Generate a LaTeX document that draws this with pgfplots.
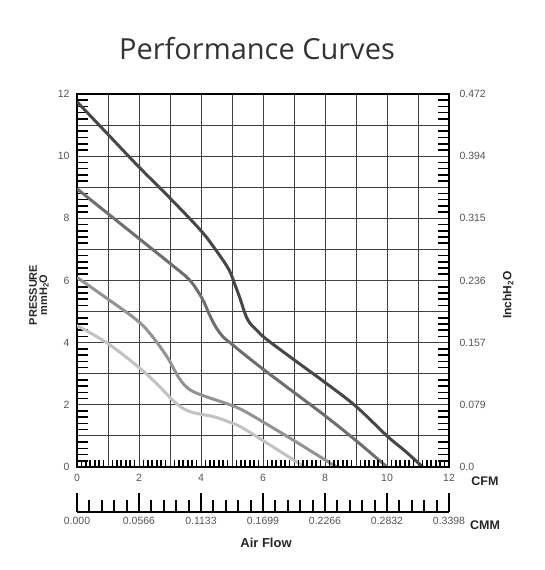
\documentclass[border=0pt]{standalone}
\usepackage{pgfplots}
\pgfplotsset{compat=1.18}
\usepackage{fontspec}
\setmainfont{Liberation Sans}
\newfontfamily\titlefont{Open Sans}
\definecolor{tickgray}{HTML}{555555}
\definecolor{cA}{HTML}{474747}
\definecolor{cB}{HTML}{6E6E6E}
\definecolor{cC}{HTML}{939393}
\definecolor{cD}{HTML}{C2C2C2}
\begin{document}
\begin{tikzpicture}
\useasboundingbox (0,0) rectangle (545pt,570pt);
\pgfplotsset{
  base/.style={scale only axis, width=372pt, height=373pt, at={(77pt,103pt)}, anchor=south west,
    xmin=0, xmax=12, ymin=0, ymax=12,
    /pgf/number format/assume math mode=true,
    tick label style={font=\fontsize{10.5}{12}\selectfont, text=tickgray},
    axis line style={line width=2.4pt}},
}
\begin{axis}[base,
  xtick={0,...,12}, ytick={0,...,12},
  xticklabels={0,,2,,4,,6,,8,,10,,12},
  yticklabels={0,,2,,4,,6,,8,,10,,12},
  grid=major, major grid style={black!75, line width=0.9pt},
  major tick length=0pt,
  minor y tick num=4, minor x tick num=0,
  minor tick length=11pt, minor tick style={black, line width=1.6pt},
  xtick pos=left, ytick pos=both, yticklabel pos=left,
  xticklabel style={yshift=-4pt}, yticklabel style={xshift=-4pt},
  every axis plot/.append style={line width=3pt, smooth, tension=0.6}]
\addplot[cD] coordinates {(0,4.55)(1,3.97)(2,3.2)(2.55,2.7)(3.2,2.05)(3.65,1.78)(4.4,1.62)(4.9,1.45)(5.3,1.28)(6,0.85)(7,0.22)(7.35,0)};
\addplot[cC] coordinates {(0,6.1)(1,5.4)(1.9,4.75)(2.35,4.3)(2.9,3.55)(3.3,2.85)(3.65,2.48)(4.2,2.25)(4.8,2.05)(5.3,1.85)(6,1.45)(7,0.85)(8,0.23)(8.38,0)};
\addplot[cB] coordinates {(0,8.95)(1,8.15)(2,7.35)(3,6.55)(3.6,6.05)(3.9,5.65)(4.1,5.3)(4.25,4.95)(4.45,4.55)(4.7,4.2)(5,3.95)(5.3,3.7)(6,3.15)(7,2.4)(8,1.65)(9,0.85)(10,0)};
\addplot[cA] coordinates {(0,11.75)(1,10.7)(2,9.65)(3,8.65)(4,7.6)(4.5,6.95)(4.9,6.35)(5.1,5.85)(5.25,5.45)(5.5,4.75)(5.8,4.4)(6.1,4.12)(7,3.45)(8,2.72)(9,1.95)(10,1.0)(10.6,0.5)(11.15,0)};
\end{axis}
\begin{axis}[base, hide y axis,
  xtick={0,...,12}, xticklabels={},
  major tick length=0pt, minor x tick num=6,
  minor tick length=7pt, minor tick style={black, line width=1.6pt},
  xtick pos=left]
\end{axis}
\begin{axis}[base, hide x axis, axis y line*=right,
  ytick={0,2,...,12},
  yticklabels={0.0,0.079,0.157,0.236,0.315,0.394,0.472},
  major tick length=0pt, yticklabel style={xshift=7pt}]
\end{axis}
\begin{axis}[scale only axis, width=372pt, height=20pt, at={(77pt,58pt)}, anchor=south west,
  xmin=0, xmax=12, ymin=0, ymax=1, hide y axis,
  axis x line=bottom, axis line style={-, line width=2.4pt},
  tick align=inside,
  xtick={0,2,...,12},
  xticklabels={0.000,0.0566,0.1133,0.1699,0.2266,0.2832,0.3398},
  /pgf/number format/assume math mode=true,
  tick label style={font=\fontsize{10.5}{12}\selectfont, text=tickgray},
  minor x tick num=4, major tick length=19pt, minor tick length=12pt,
  major tick style={black, line width=1.2pt}, minor tick style={black, line width=2pt},
  xticklabel style={yshift=-2pt}]
\addplot[draw=none] coordinates {(0,0)(12,1)};
\end{axis}
\node[font=\bfseries\fontsize{12.5}{14}\selectfont, text=black!85] at (485pt,89pt) {CFM};
\node[font=\bfseries\fontsize{12.5}{14}\selectfont, text=black!85] at (485pt,45pt) {CMM};
\node[font=\bfseries\fontsize{13}{15}\selectfont, text=black!85] at (266pt,27pt) {Air Flow};
\node[rotate=90, font=\bfseries\fontsize{11}{13}\selectfont, text=black!85] at (33pt,275pt) {PRESSURE};
\node[rotate=90, font=\bfseries\fontsize{11}{13}\selectfont, text=black!85] at (44pt,275pt) {mmH\textsubscript{2}O};
\node[rotate=90, font=\bfseries\fontsize{12}{14}\selectfont, text=black!85] at (508pt,275pt) {InchH\textsubscript{2}O};
\node[anchor=base, font=\titlefont\fontsize{29}{35}\selectfont, text=black!80] at (257pt,510pt) {Performance Curves};
\end{tikzpicture}
\end{document}
